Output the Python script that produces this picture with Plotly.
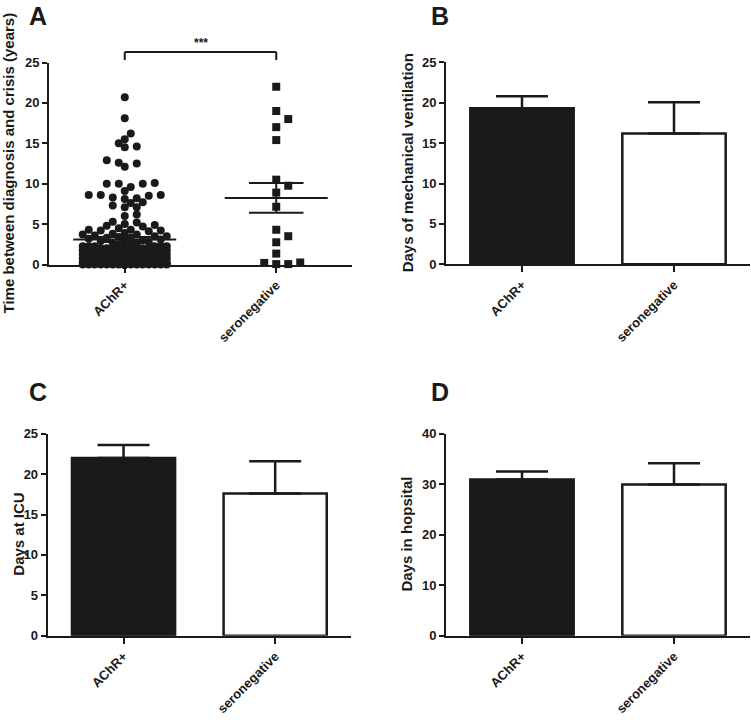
import math
import plotly.graph_objects as go

# ---------------- data ----------------
groups = ["AChR+", "seronegative"]

# Panel A: time between diagnosis and crisis (years)
achr_years = [
    0, 0, 0, 0, 0, 0, 0, 0, 0, 0, 0, 0, 0, 0, 0, 0, 0, 0, 0, 0, 0, 0, 0, 0, 0, 0,
    0.1, 0.1, 0.1, 0.1, 0.1, 0.1, 0.1, 0.1, 0.1,
    0.25, 0.25, 0.25, 0.25, 0.25, 0.25, 0.25, 0.25, 0.25,
    0.5, 0.5, 0.5, 0.5, 0.5, 0.5, 0.5, 0.5, 0.5,
    0.75, 0.75, 0.75, 0.75, 0.75, 0.75, 0.75, 0.75, 0.75,
    1.0, 1.0, 1.0, 1.0, 1.0, 1.0, 1.0, 1.0, 1.0,
    1.25, 1.25, 1.25, 1.25, 1.25, 1.25, 1.25, 1.25, 1.25,
    1.5, 1.5, 1.5, 1.5, 1.5, 1.5, 1.5, 1.5, 1.5,
    1.75, 1.75, 1.75, 1.75, 1.75, 1.75, 1.75, 1.75, 1.75,
    2.0, 2.0, 2.0, 2.0, 2.0, 2.0, 2.0, 2.0, 2.0,
    2.25, 2.25, 2.25, 2.25, 2.25, 2.25, 2.25, 2.25, 2.25,
    2.6, 2.7, 2.8, 2.9, 3.0, 3.0, 3.1, 3.2, 3.3, 3.3, 3.4, 3.5, 3.5, 3.6, 3.7, 3.7, 3.8, 3.9,
    4.1, 4.2, 4.2, 4.3, 4.3, 4.5, 4.7, 4.8, 4.9, 5.0, 5.2, 5.3,
    6.0, 6.2, 7.1, 7.1, 7.3, 7.6, 7.7, 8.1, 8.2, 8.3, 8.5, 8.6, 8.6, 8.6, 9.1,
    9.6, 10.0, 10.0, 10.0, 10.1,
    12.1, 12.5, 12.6, 12.9, 14.5, 14.6, 15.0, 15.5, 16.2, 18.1, 20.7,
]
seroneg_years = [0.05, 0.05, 0.2, 0.25, 1.35, 2.75, 3.5, 4.3, 7.15, 8.9,
                 9.75, 10.5, 15.4, 17.0, 18.0, 19.0, 22.0]
significance = "***"

# Panels B-D: mean and SEM (upper error bar only)
vent_mean = [19.3, 16.2]
vent_sem = [1.5, 3.85]
icu_mean = [22.0, 17.6]
icu_sem = [1.6, 4.0]
hosp_mean = [30.9, 29.9]
hosp_sem = [1.6, 4.2]

titles = {
    "A": "Time between diagnosis and crisis (years)",
    "B": "Days of mechanical ventilation",
    "C": "Days at ICU",
    "D": "Days in hopsital",
}

# ---------------- layout geometry (pixels) ----------------
W, H = 751, 724
INK = "#1a1a1a"
FONT = "Arial, 'Liberation Sans', Helvetica, sans-serif"
XR = [-0.5, 1.5]

panels = {
    "A": dict(x=(49, 352), y=(62.5, 264.5), ymax=25, dtick=5),
    "B": dict(x=(446, 750), y=(62.3, 264.3), ymax=25, dtick=5),
    "C": dict(x=(47.7, 351), y=(433.7, 635.7), ymax=25, dtick=5),
    "D": dict(x=(446, 750), y=(433.5, 635.7), ymax=40, dtick=10),
}
axis_ids = {"A": ("x", "y"), "B": ("x2", "y2"), "C": ("x3", "y3"), "D": ("x4", "y4")}
title_x_px = {"A": 8, "B": 407, "C": 19, "D": 407}
letter_pos = {"A": (38, 16), "B": (440, 16), "C": (38, 392), "D": (440, 392)}


def beeswarm(vals, x_px_per_unit, y_px_per_unit, grid_px, dmin_px, max_k):
    order = sorted(range(len(vals)), key=lambda i: vals[i])
    placed = []
    offs = [0.0] * len(vals)
    cands = [0]
    for k in range(1, max_k + 1):
        cands += [k, -k]
    for i in order:
        v = vals[i]
        chosen = None
        best_k, best_d = 0, -1
        for k in cands:
            xp = k * grid_px
            md = min((math.hypot(xp - px, (v - pv) * y_px_per_unit) for px, pv in placed),
                     default=1e9)
            if md >= dmin_px:
                chosen = k
                break
            if md > best_d + 1e-9:
                best_d, best_k = md, k
        if chosen is None:
            chosen = best_k
        xp = chosen * grid_px
        placed.append((xp, v))
        offs[i] = xp / x_px_per_unit
    return offs


fig = go.Figure()

# ---- Panel A scatter ----
pa = panels["A"]
xppu = (pa["x"][1] - pa["x"][0]) / (XR[1] - XR[0])
yppu = (pa["y"][1] - pa["y"][0]) / pa["ymax"]
off_a = beeswarm(achr_years, xppu, yppu, 6, 7, 7)
off_s = beeswarm(seroneg_years, xppu, yppu, 12, 9, 3)

fig.add_trace(go.Scatter(x=[0 + o for o in off_a], y=achr_years, mode="markers",
                         marker=dict(symbol="circle", size=8, color=INK),
                         xaxis="x", yaxis="y", showlegend=False, cliponaxis=False))
fig.add_trace(go.Scatter(x=[1 + o for o in off_s], y=seroneg_years, mode="markers",
                         marker=dict(symbol="square", size=8, color=INK),
                         xaxis="x", yaxis="y", showlegend=False, cliponaxis=False))

lx, ly = [], []
for gi, vals in enumerate([achr_years, seroneg_years]):
    n = len(vals)
    m = sum(vals) / n
    sd = math.sqrt(sum((v - m) ** 2 for v in vals) / (n - 1))
    se = sd / math.sqrt(n)
    lx += [gi - 0.34, gi + 0.34, None, gi - 0.18, gi + 0.18, None,
           gi - 0.18, gi + 0.18, None, gi, gi, None]
    ly += [m, m, None, m + se, m + se, None, m - se, m - se, None, m - se, m + se, None]
fig.add_trace(go.Scatter(x=lx, y=ly, mode="lines", line=dict(color=INK, width=2),
                         xaxis="x", yaxis="y", showlegend=False, hoverinfo="skip"))

# ---- Bar panels ----
for key, means, sems in [("B", vent_mean, vent_sem), ("C", icu_mean, icu_sem),
                         ("D", hosp_mean, hosp_sem)]:
    xa, ya = axis_ids[key]
    fig.add_trace(go.Bar(
        x=[0, 1], y=means, width=0.68,
        marker=dict(color=[INK, "white"], line=dict(color=INK, width=2.5)),
        error_y=dict(type="data", symmetric=False, array=sems, arrayminus=[0, 0],
                     color=INK, thickness=2.5, width=26),
        xaxis=xa, yaxis=ya, showlegend=False,
    ))

layout = dict(
    width=W, height=H, margin=dict(l=0, r=0, t=0, b=0, autoexpand=False),
    paper_bgcolor="white", plot_bgcolor="white",
    font=dict(family=FONT, color=INK), showlegend=False,
)
annotations = []
shapes = []
for key, p in panels.items():
    xa, ya = axis_ids[key]
    xname = "xaxis" + xa[1:]
    yname = "yaxis" + ya[1:]
    layout[xname] = dict(
        domain=[p["x"][0] / W, p["x"][1] / W], range=XR, anchor=ya, automargin=False,
        tickvals=[0, 1], ticktext=groups, tickangle=-45,
        showline=True, linecolor=INK, linewidth=2, ticks="outside", ticklen=6,
        tickwidth=2, tickcolor=INK, showgrid=False, zeroline=False,
        tickfont=dict(family=FONT, size=13, color=INK, weight="bold"),
    )
    layout[yname] = dict(
        domain=[1 - p["y"][1] / H, 1 - p["y"][0] / H], range=[0, p["ymax"]], anchor=xa,
        automargin=False,
        tick0=0, dtick=p["dtick"], showline=True, linecolor=INK, linewidth=2,
        ticks="outside", ticklen=5, tickwidth=2, tickcolor=INK, showgrid=False,
        zeroline=False, tickfont=dict(family=FONT, size=13, color=INK, weight="bold"),
    )
    cy = 1 - (p["y"][0] + p["y"][1]) / 2 / H
    annotations.append(dict(
        text=titles[key], x=title_x_px[key] / W, y=cy, xref="paper", yref="paper",
        textangle=-90, showarrow=False, xanchor="center", yanchor="middle",
        font=dict(family=FONT, size=15, color=INK, weight="bold"),
    ))
    lxp, lyp = letter_pos[key]
    annotations.append(dict(
        text=key, x=lxp / W, y=1 - lyp / H, xref="paper", yref="paper",
        showarrow=False, xanchor="center", yanchor="middle",
        font=dict(family=FONT, size=25, color=INK, weight="bold"),
    ))

# significance bracket (panel A), in axis-domain units
bracket_y = 26.3
bracket_tick = 25.3
ymaxA = panels["A"]["ymax"]


def xd(v):
    return (v - XR[0]) / (XR[1] - XR[0])


for seg in [((0, bracket_y), (1, bracket_y)), ((0, bracket_y), (0, bracket_tick)),
            ((1, bracket_y), (1, bracket_tick))]:
    (x0, y0), (x1, y1) = seg
    shapes.append(dict(type="line", xref="x domain", yref="y domain",
                       x0=xd(x0), x1=xd(x1), y0=y0 / ymaxA, y1=y1 / ymaxA,
                       line=dict(color=INK, width=2)))
annotations.append(dict(
    text=significance, x=xd(0.5), y=bracket_y / ymaxA, xref="x domain", yref="y domain",
    showarrow=False, xanchor="center", yanchor="bottom", yshift=0,
    font=dict(family=FONT, size=12, color=INK, weight="bold"),
))

layout["annotations"] = annotations
layout["shapes"] = shapes
fig.update_layout(**layout)
fig.write_html(
    "out.html",
    config={"displayModeBar": False},
    post_script="document.body.style.margin='0';document.body.style.padding='0';"
                "document.body.style.overflow='hidden';"
                "document.documentElement.style.overflow='hidden';",
)
